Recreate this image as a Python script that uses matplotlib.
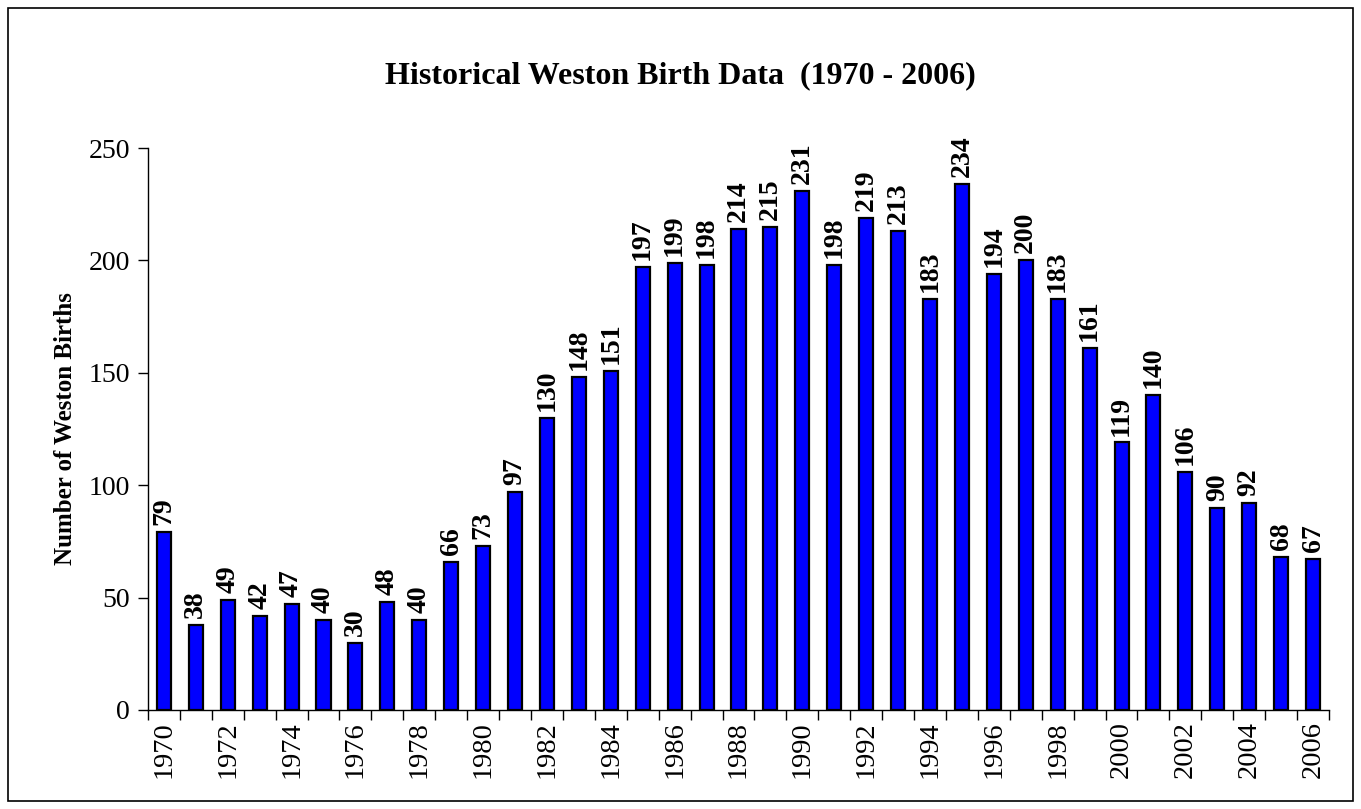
import matplotlib
matplotlib.use("Agg")
import matplotlib.pyplot as plt
from matplotlib.patches import Rectangle

years = list(range(1970, 2007))
births = [79, 38, 49, 42, 47, 40, 30, 48, 40, 66, 73, 97, 130, 148, 151, 197, 199, 198,
          214, 215, 231, 198, 219, 213, 183, 234, 194, 200, 183, 161, 119, 140, 106, 90,
          92, 68, 67]
tick_labels = [str(y) if (y % 2 == 0) else "" for y in years]
title = "Historical Weston Birth Data  (1970 - 2006)"
ylabel = "Number of Weston Births"

plt.rcParams['font.family'] = ['Liberation Serif', 'DejaVu Serif']

fig = plt.figure(figsize=(13.61, 8.09), dpi=100)
fig.patches.append(Rectangle((0.006, 0.01), 0.988, 0.98, transform=fig.transFigure,
                             fill=False, edgecolor='black', linewidth=1.2))
ax = fig.add_axes([0.1087, 0.1224, 0.8678, 0.6946])

x = list(range(len(years)))
bars = ax.bar(x, births, width=0.44, color='#0000FF', edgecolor='black', linewidth=1.6, zorder=3)
for xi, v in zip(x, births):
    ax.annotate(str(v), (xi, v), xytext=(0, 5), textcoords='offset points',
                rotation=90, ha='center', va='bottom', fontsize=20, fontweight='bold')

ax.set_xlim(-0.5, len(years) - 0.5)
ax.set_ylim(0, 250)
ax.set_yticks([0, 50, 100, 150, 200, 250])
ax.set_xticks(x)
ax.set_xticklabels(tick_labels, rotation=90, fontsize=20.5)
ax.tick_params(axis='x', which='major', length=0, pad=8)
ax.set_xticks([i - 0.5 for i in range(len(years) + 1)], minor=True)
ax.tick_params(axis='x', which='minor', length=7, width=1, direction='out')
ax.tick_params(axis='y', labelsize=20, length=7, width=1, direction='out', pad=6)
for s in ['top', 'right']:
    ax.spines[s].set_visible(False)
ax.spines['left'].set_linewidth(1)
ax.spines['bottom'].set_linewidth(1)
ax.set_ylabel(ylabel, fontsize=18, fontweight='bold', labelpad=8)
fig.text(0.5, 0.907, title, ha='center', va='center', fontsize=23, fontweight='bold')

fig.savefig("out.png", dpi=100)
